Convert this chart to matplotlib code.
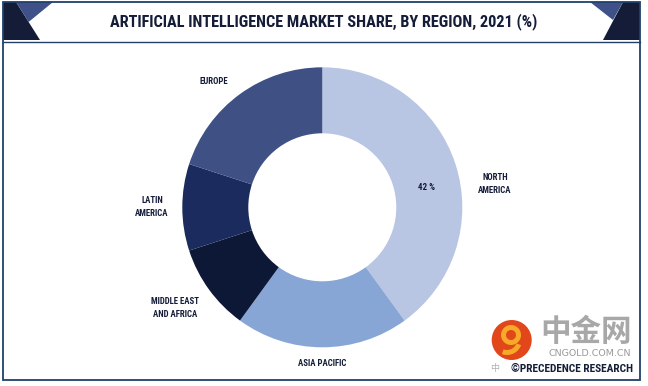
import os
import matplotlib.pyplot as plt
from matplotlib import font_manager
from matplotlib.patches import Polygon, Rectangle, Circle, Wedge

# canvas size in pixels (image coords: y grows downward)
W, H = 648, 386

# data
regions = ["NORTH\nAMERICA", "ASIA PACIFIC", "MIDDLE EAST\nAND AFRICA", "LATIN\nAMERICA", "EUROPE"]
shares = [42, 21, 10.5, 10.5, 21]
colors = ["#b8c5e3", "#88a6d5", "#0c1836", "#1b2b5d", "#3e5084"]
title = "ARTIFICIAL INTELLIGENCE MARKET SHARE, BY REGION, 2021 (%)"

# where the region names sit (image coords)
label_xy = [(495, 184), (322, 364), (175, 308), (152, 207), (214, 81)]

NAVY = "#141c38"
MID = "#3f5189"
FRAME = "#22406a"


def pick_narrow():
    """Look for a condensed / narrow face, else plain DejaVu Sans."""
    cands = [("Liberation Sans Narrow", "normal"), ("Roboto Condensed", "normal"),
             ("DejaVu Sans", "condensed"), ("Open Sans", "condensed"),
             ("Noto Sans", "condensed"), ("Roboto", "condensed")]
    for fam, st in cands:
        try:
            path = font_manager.findfont(
                font_manager.FontProperties(family=fam, stretch=st, weight="bold"),
                fallback_to_default=False)
        except ValueError:
            continue
        base = os.path.basename(path).lower()
        if "narrow" in base or "condensed" in base:
            return fam, st
    return "DejaVu Sans", "normal"


NARROW, STRETCH = pick_narrow()


def Y(y):
    return H - y


fig = plt.figure(figsize=(W / 100, H / 100), dpi=100)
ax = fig.add_axes([0, 0, 1, 1])
renderer = fig.canvas.get_renderer()


def fit(t, width_px):
    # scale font so the text box is as wide as in the reference
    w = t.get_window_extent(renderer).width
    t.set_fontsize(t.get_fontsize() * width_px / w)


def ntext(x, y, s, **kw):
    return ax.text(x, Y(y), s, ha="center", va="center", fontweight="bold",
                   family=NARROW, fontstretch=STRETCH, color=NAVY, **kw)


# donut
cx, cy, R, r_in = 322.3, Y(207.3), 140, 74
ax.pie(shares, colors=colors, startangle=90, counterclock=False,
       center=(cx, cy), radius=R,
       wedgeprops=dict(width=R - r_in, linewidth=0))
ax.set_xlim(0, W)
ax.set_ylim(0, H)
ax.axis("off")

labels = [ntext(x, y, name, fontsize=6, linespacing=1.45)
          for name, (x, y) in zip(regions, label_xy)]
fit(labels[2], 49)
for t in labels:
    t.set_fontsize(labels[2].get_fontsize())

pct = ntext(427, 188, f"{shares[0]:g} %", fontsize=6)
fit(pct, 17)

# header decorations
ax.add_patch(Polygon([(3, Y(2)), (16, Y(2)), (40, Y(40)), (3, Y(40))],
                     color=NAVY, lw=0))
ax.add_patch(Polygon([(16, Y(2)), (53, Y(2)), (28.6, Y(22))], color=MID, lw=0))
ax.add_patch(Polygon([(623, Y(2)), (640, Y(2)), (640, Y(40)), (603, Y(40))],
                     color=NAVY, lw=0))
ax.add_patch(Polygon([(590, Y(2)), (623, Y(2)), (613, Y(20))], color=MID, lw=0))
ax.plot([3, 640], [Y(41.5), Y(41.5)], color=FRAME, lw=1.0)
ax.add_patch(Rectangle((3, Y(380)), 637, 378, fill=False, ec=FRAME, lw=1.3))

ttl = ntext(324, 21.5, title, fontsize=11)
fit(ttl, 428)

# watermark
ax.add_patch(Circle((511.7, Y(340)), 20, color="#e2471c", lw=0))
ax.add_patch(Wedge((511, Y(335)), 10, 0, 360, width=5, color="#f7a928", lw=0))
ax.add_patch(Wedge((507, Y(340)), 15, 250, 340, width=5, color="#f7a928", lw=0))
ax.text(586, Y(332), "中金网", ha="center", va="center", fontsize=22,
        fontweight="bold", family=["Noto Sans CJK SC", "DejaVu Sans"],
        color="#a8a8a8")
ax.text(590, Y(353.5), "CNGOLD.COM.CN", ha="center", va="center",
        fontsize=6.8, color="#9a9a9a")
ax.text(495, Y(368.5), "中", ha="center", va="center", fontsize=6.5,
        family=["Noto Sans CJK SC", "DejaVu Sans"], color="#b0b0b0")
src = ntext(572, 369, "©PRECEDENCE RESEARCH", fontsize=8)
fit(src, 122)

fig.savefig("out.png", dpi=100)
